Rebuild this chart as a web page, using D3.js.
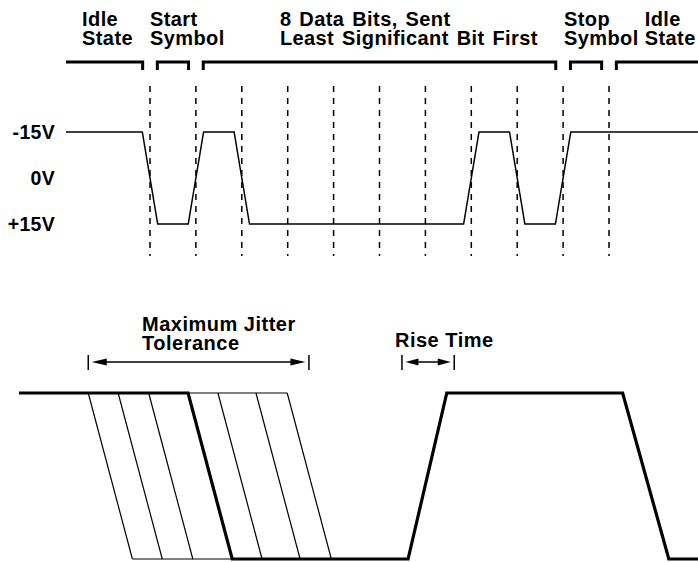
<!DOCTYPE html>
<html>
<head>
<meta charset="utf-8">
<script src="https://cdn.jsdelivr.net/npm/d3@7"></script>
<style>
  html, body { margin: 0; padding: 0; background: #fff; }
  svg { display: block; }
  text { font-family: "Liberation Sans", Arial, Helvetica, sans-serif; font-weight: bold; fill: #000; }
</style>
</head>
<body>
<svg id="chart" width="698" height="562"></svg>
<script>
// ---------------- DATA ----------------
// Top: RS-232 character frame, in bit times (0 = start of start bit)
const segmentNames   = ["Idle State", "Start Symbol", "8 Data Bits, Sent Least Significant Bit First", "Stop Symbol", "Idle State"];
const segmentLines   = [["Idle", "State"], ["Start", "Symbol"], ["8 Data Bits, Sent", "Least Significant Bit First"], ["Stop", "Symbol"], ["Idle", "State"]];
const segmentStart   = [-1.83, 0, 1, 9, 10];
const segmentEnd     = [0, 1, 9, 10, 12];
const dataBits       = [1, 0, 0, 0, 0, 0, 1, 0];     // LSB first; 1 = mark (-15V)
const idleVolts      = -15;                          // mark level
const startVolts     = 15;                           // space level
const stopVolts      = -15;
const bitBoundaries  = [0, 1, 2, 3, 4, 5, 6, 7, 8, 9, 10];
const transitionBits = 0.335;                        // edge duration in bit times
const voltTicks      = [-15, 0, 15];
const voltLabels     = ["-15V", "0V", "+15V"];

// Bottom: jitter / rise-time detail (arbitrary time units 0..100, level 0/1)
const jitterEdgeStarts = [10.2, 14.6, 19.1, 24.9, 29.3, 34.9, 39.5];
const nominalEdgeIndex = 3;
const fallDuration     = 6.5;
const detailWaveT      = [0, 24.9, 31.4, 57.3, 63.0, 88.9, 95.7, 100];
const detailWaveV      = [1, 1, 0, 0, 1, 1, 0, 0];
const jitterSpan       = [10.2, 42.7];
const riseSpan         = [56.4, 64.1];
const jitterLabel      = ["Maximum Jitter", "Tolerance"];
const riseLabel        = ["Rise Time"];

// ---------------- SCALES ----------------
const svg = d3.select("#chart");
const xTop = d3.scaleLinear().domain([0, 10]).range([150, 609]);
const yTop = d3.scaleLinear().domain([-15, 15]).range([132, 224]);
const xBot = d3.scaleLinear().domain([0, 100]).range([19, 698]);
const yBot = d3.scaleLinear().domain([0, 1]).range([559, 393]);

// ---------------- TOP: header brackets + labels ----------------
const inset = 0.16;
const brY = 62, brTick = 8;
const labelX = { 0: -1.48, 1: 0, 2: 2.83, 3: 9.02, 4: 10.78 };
const header = svg.append("g");
segmentNames.forEach((name, i) => {
  const leftOpen = i === 0, rightOpen = i === segmentNames.length - 1;
  const x1 = xTop(leftOpen ? segmentStart[i] : segmentStart[i] + inset);
  const x2 = xTop(rightOpen ? segmentEnd[i] : segmentEnd[i] - inset);
  let p = leftOpen ? `M${x1},${brY}` : `M${x1},${brY + brTick}V${brY}`;
  p += `H${x2}`;
  if (!rightOpen) p += `V${brY + brTick}`;
  header.append("path").attr("d", p).attr("fill", "none")
    .attr("stroke", "#000").attr("stroke-width", 3).attr("stroke-linejoin", "miter");
  segmentLines[i].forEach((ln, j) => {
    header.append("text").attr("x", xTop(labelX[i])).attr("y", 26 + j * 19)
      .attr("font-size", 20).attr("letter-spacing", 0.4).attr("word-spacing", 2)
      .text(ln);
  });
});

// dashed bit boundaries
svg.append("g").selectAll("line").data(bitBoundaries).join("line")
  .attr("x1", d => xTop(d)).attr("x2", d => xTop(d))
  .attr("y1", 86).attr("y2", 256)
  .attr("stroke", "#000").attr("stroke-width", 1.5).attr("stroke-dasharray", "6,6");

// voltage axis
const yAxis = d3.axisLeft(yTop).tickValues(voltTicks)
  .tickFormat((d, i) => voltLabels[i]).tickSize(0).tickPadding(0);
const ag = svg.append("g").attr("transform", "translate(55,0)").call(yAxis);
ag.select(".domain").remove();
ag.selectAll("text").attr("font-size", 19.5).attr("letter-spacing", 0.3)
  .style("font-family", "'Liberation Sans', Arial, sans-serif").style("font-weight", "bold");

// waveform levels per slot
const slotLevels = [idleVolts, startVolts, ...dataBits.map(b => b ? -15 : 15), stopVolts, idleVolts];
const slotBounds = [segmentStart[0], ...bitBoundaries, segmentEnd[4]];
const wave = [[segmentStart[0], slotLevels[0]]];
for (let k = 1; k < slotLevels.length; k++) {
  const t = slotBounds[k];
  if (slotLevels[k] !== slotLevels[k - 1]) {
    wave.push([t - transitionBits / 2, slotLevels[k - 1]]);
    wave.push([t + transitionBits / 2, slotLevels[k]]);
  }
}
wave.push([segmentEnd[4], slotLevels[slotLevels.length - 1]]);
const lineTop = d3.line().x(d => xTop(d[0])).y(d => yTop(d[1]));
svg.append("path").attr("d", lineTop(wave)).attr("fill", "none")
  .attr("stroke", "#000").attr("stroke-width", 1.5).attr("stroke-linejoin", "miter");

// ---------------- BOTTOM: jitter detail ----------------
const lineBot = d3.line().x(d => xBot(d[0])).y(d => yBot(d[1]));
// thin jitter edges and thin level lines
const thin = svg.append("g").attr("fill", "none").attr("stroke", "#000").attr("stroke-width", 1.2);
jitterEdgeStarts.forEach((s, i) => {
  if (i === nominalEdgeIndex) return;
  thin.append("path").attr("d", lineBot([[s, 1], [s + fallDuration, 0]]));
});
const lastS = jitterEdgeStarts[jitterEdgeStarts.length - 1];
thin.append("path").attr("d", lineBot([[jitterEdgeStarts[0], 1], [lastS, 1]]));
thin.append("path").attr("d", lineBot([[jitterEdgeStarts[0] + fallDuration, 0], [lastS + fallDuration, 0]]));

// thick nominal waveform
svg.append("path").attr("d", lineBot(detailWaveT.map((t, i) => [t, detailWaveV[i]])))
  .attr("fill", "none").attr("stroke", "#000").attr("stroke-width", 3.2).attr("stroke-linejoin", "miter");

// dimension arrows
function dimArrow(span, y, headLen) {
  const g = svg.append("g");
  const a = xBot(span[0]), b = xBot(span[1]);
  [a, b].forEach(x => g.append("line").attr("x1", x).attr("x2", x)
    .attr("y1", y - 7).attr("y2", y + 8).attr("stroke", "#000").attr("stroke-width", 1.5));
  const l = a + 3.5, r = b - 3.5;
  g.append("line").attr("x1", l + 4).attr("x2", r - 4).attr("y1", y).attr("y2", y)
    .attr("stroke", "#000").attr("stroke-width", 1.5);
  g.append("path").attr("d", `M${l},${y}L${l + headLen},${y - 3.5}L${l + headLen},${y + 3.5}Z`);
  g.append("path").attr("d", `M${r},${y}L${r - headLen},${y - 3.5}L${r - headLen},${y + 3.5}Z`);
}
dimArrow(jitterSpan, 362, 15);
dimArrow(riseSpan, 362, 13);

jitterLabel.forEach((t, j) => svg.append("text").attr("x", 142).attr("y", 331 + j * 19)
  .attr("font-size", 20).attr("letter-spacing", 0.5).text(t));
riseLabel.forEach(t => svg.append("text").attr("x", 395).attr("y", 347)
  .attr("font-size", 20).attr("letter-spacing", 0.5).text(t));
</script>
</body>
</html>
